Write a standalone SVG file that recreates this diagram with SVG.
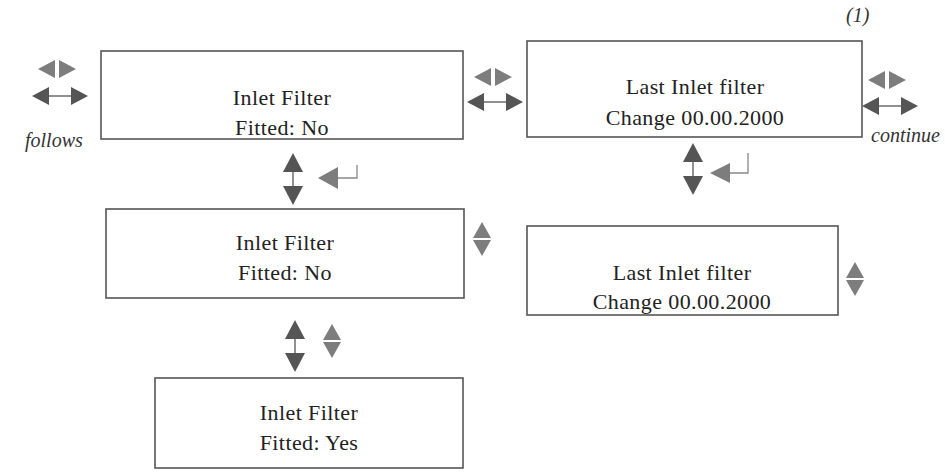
<svg xmlns="http://www.w3.org/2000/svg" width="945" height="473" viewBox="0 0 945 473">
<style>
.box{fill:#fff;stroke:#555;stroke-width:1.6}
.t{font-family:"Liberation Serif",serif;font-size:22px;letter-spacing:0.4px;fill:#222;text-anchor:middle}
.i{font-family:"Liberation Serif",serif;font-size:20px;font-style:italic;fill:#333}
.dot{fill:#7d7d7d}
.solid{fill:#555}
.ln{stroke:#555;stroke-width:1.3;fill:none}
.hook{stroke:#888;stroke-width:1.3;fill:none}
</style>
<defs>
<g id="lr">
<polygon class="dot" points="-2,-9 -19,0 -2,9"/>
<polygon class="dot" points="2,-9 19,0 2,9"/>
</g>
<g id="hh">
<line class="ln" x1="-12" y1="0" x2="12" y2="0"/>
<polygon class="solid" points="-28,0 -11,-9 -11,9"/>
<polygon class="solid" points="28,0 11,-9 11,9"/>
</g>
<g id="vv">
<line class="ln" x1="0" y1="-8" x2="0" y2="8"/>
<polygon class="solid" points="0,-26 -10,-7 10,-7"/>
<polygon class="solid" points="0,26 -10,7 10,7"/>
</g>
<g id="ud">
<polygon class="dot" points="0,-17 -9,-1 9,-1"/>
<polygon class="dot" points="0,17 -9,1 9,1"/>
</g>
</defs>
<g id="node1">
<rect class="box" x="101" y="51" width="362" height="88"/>
<text class="t" x="282" y="105">Inlet Filter</text>
<text class="t" x="282" y="135">Fitted: No</text>
</g>
<g id="node2">
<rect class="box" x="527" y="41" width="335" height="96"/>
<text class="t" x="695" y="94">Last Inlet filter</text>
<text class="t" x="695" y="125">Change 00.00.2000</text>
</g>
<g id="node3">
<rect class="box" x="106" y="209" width="358" height="89"/>
<text class="t" x="285" y="250">Inlet Filter</text>
<text class="t" x="285" y="280">Fitted: No</text>
</g>
<g id="node4">
<rect class="box" x="527" y="226" width="311" height="89"/>
<text class="t" x="682" y="280">Last Inlet filter</text>
<text class="t" x="682" y="309">Change 00.00.2000</text>
</g>
<g id="node5">
<rect class="box" x="155" y="378" width="308" height="90"/>
<text class="t" x="309" y="420">Inlet Filter</text>
<text class="t" x="309" y="450">Fitted: Yes</text>
</g>
<g id="connectors">
<use href="#lr" x="57" y="69"/>
<use href="#hh" x="60" y="96"/>
<use href="#lr" x="493" y="77"/>
<use href="#hh" x="495" y="102"/>
<use href="#lr" x="887" y="80"/>
<use href="#hh" x="890" y="106"/>
<use href="#vv" x="293" y="179"/>
<polygon class="dot" points="318,178 338,167 338,189"/>
<polyline class="hook" points="338,178 357,178 357,165"/>
<use href="#vv" x="693" y="169"/>
<polygon class="dot" points="710,173 730,163 730,183"/>
<polyline class="hook" points="730,173 748,173 748,153"/>
<use href="#ud" x="482" y="239"/>
<use href="#ud" x="855" y="279"/>
<use href="#vv" x="295" y="346"/>
<use href="#ud" x="332" y="341"/>
</g>
<text class="i" x="25" y="147">follows</text>
<text class="i" x="871" y="142">continue</text>
<text class="i" x="846" y="22">(1)</text>
</svg>
